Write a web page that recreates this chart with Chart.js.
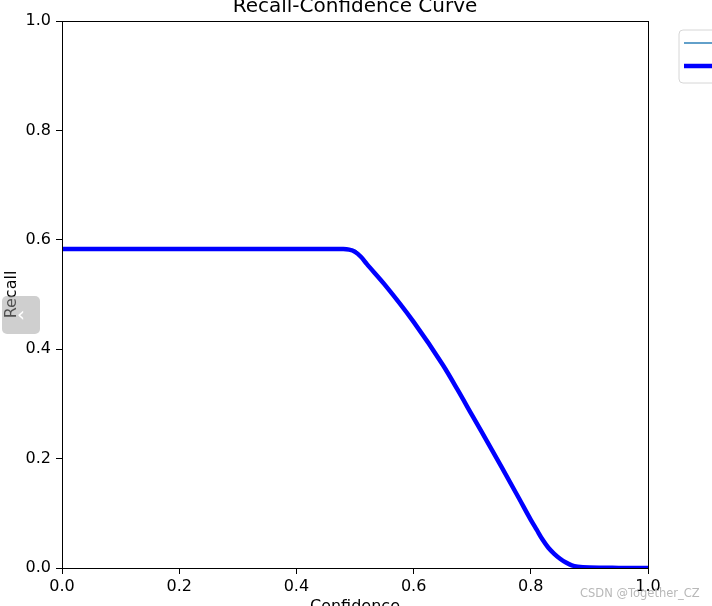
<!DOCTYPE html>
<html lang="en">
<head>
    <meta charset="UTF-8">
    <title>Recall-Confidence Curve</title>
    <script src="https://cdn.jsdelivr.net/npm/chart.js"></script>
    <style>
        html, body { margin: 0; padding: 0; background: #fff; overflow: hidden; width: 712px; height: 606px; }
        #wrap { position: absolute; left: 0; top: -20px; width: 960px; height: 640px; }
        #navBtn {
            position: absolute; left: 2px; top: 296px; width: 38px; height: 38px;
            border-radius: 5px; background: rgba(160, 160, 160, 0.5);
            color: #fff; font: 20px "DejaVu Sans", sans-serif; text-align: center; line-height: 36px;
        }
        #mark {
            position: absolute; left: 580px; top: 586px;
            font: 11.5px "DejaVu Sans", sans-serif; color: #b8b8b8; white-space: nowrap;
        }
    </style>
</head>
<body>
    <div id="wrap"><canvas id="rcChart" width="960" height="640"></canvas></div>
    <div id="navBtn">‹</div>
    <div id="mark">CSDN @Together_CZ</div>

    <script>
        // values
        const confidence  = [0, 0.2, 0.4, 0.46, 0.48, 0.49, 0.50, 0.51, 0.52, 0.55, 0.60, 0.65, 0.675, 0.70, 0.75, 0.78, 0.80, 0.81, 0.82, 0.83, 0.84, 0.85, 0.86, 0.87, 0.88, 0.90, 0.95, 1.0];
        const recallAll   = [0.583, 0.583, 0.583, 0.583, 0.583, 0.582, 0.578, 0.569, 0.556, 0.519, 0.450, 0.371, 0.326, 0.279, 0.185, 0.127, 0.088, 0.070, 0.052, 0.037, 0.026, 0.017, 0.010, 0.005, 0.0025, 0.0008, 0.0002, 0];
        const recallClass = [0.583, 0.583, 0.583, 0.583, 0.583, 0.583, 0.581, 0.571, 0.558, 0.519, 0.450, 0.371, 0.326, 0.279, 0.185, 0.127, 0.088, 0.070, 0.052, 0.037, 0.026, 0.017, 0.010, 0.005, 0.0025, 0.0008, 0.0002, 0];
        const seriesNames = ['person', 'all classes 0.58 at 0.000'];
        const tickValues  = [0, 0.2, 0.4, 0.6, 0.8, 1.0];
        const chartTitle  = 'Recall-Confidence Curve';

        Chart.defaults.font.family = "'DejaVu Sans', sans-serif";
        Chart.defaults.color = '#000';

        const toPoints = ys => confidence.map((x, i) => ({ x: x, y: ys[i] }));

        // title over the axes, frame round them, and a matplotlib-like legend box (cut by the window)
        const framePlugin = {
            id: 'frame',
            afterDraw(chart) {
                const { ctx, chartArea: a } = chart;
                ctx.save();
                ctx.fillStyle = '#000';
                ctx.font = "20px 'DejaVu Sans', sans-serif";
                ctx.textAlign = 'center';
                ctx.textBaseline = 'middle';
                ctx.fillText(chartTitle, (a.left + a.right) / 2, 27);

                ctx.strokeStyle = '#000';
                ctx.lineWidth = 1;
                ctx.strokeRect(Math.round(a.left) + 0.5, Math.round(a.top) + 0.5,
                    Math.round(a.right - a.left), Math.round(a.bottom - a.top));

                const lx = 679, ly = 50, lw = 220, lh = 53, r = 4;
                ctx.beginPath();
                ctx.moveTo(lx + r, ly);
                ctx.lineTo(lx + lw - r, ly);
                ctx.arcTo(lx + lw, ly, lx + lw, ly + r, r);
                ctx.lineTo(lx + lw, ly + lh - r);
                ctx.arcTo(lx + lw, ly + lh, lx + lw - r, ly + lh, r);
                ctx.lineTo(lx + r, ly + lh);
                ctx.arcTo(lx, ly + lh, lx, ly + lh - r, r);
                ctx.lineTo(lx, ly + r);
                ctx.arcTo(lx, ly, lx + r, ly, r);
                ctx.closePath();
                ctx.fillStyle = 'rgba(255,255,255,0.8)';
                ctx.fill();
                ctx.strokeStyle = '#d6d6d6';
                ctx.stroke();

                chart.data.datasets.forEach((ds, i) => {
                    const y = ly + 13 + i * 23;
                    ctx.beginPath();
                    ctx.strokeStyle = ds.borderColor;
                    ctx.lineWidth = ds.borderWidth;
                    ctx.moveTo(lx + 5, y);
                    ctx.lineTo(lx + 33, y);
                    ctx.stroke();
                });
                ctx.restore();
            }
        };

        const tickOpts = {
            color: '#000',
            font: { size: 16 },
            callback: v => Number(v).toFixed(1)
        };

        new Chart(document.getElementById('rcChart'), {
            type: 'line',
            data: {
                datasets: [
                    {
                        label: seriesNames[0],
                        data: toPoints(recallClass),
                        borderColor: '#1f77b4',
                        borderWidth: 1.4,
                        pointRadius: 0,
                        cubicInterpolationMode: 'monotone',
                        order: 2
                    },
                    {
                        label: seriesNames[1],
                        data: toPoints(recallAll),
                        borderColor: '#0000ff',
                        borderWidth: 4.5,
                        pointRadius: 0,
                        cubicInterpolationMode: 'monotone',
                        order: 1
                    }
                ]
            },
            options: {
                responsive: false,
                animation: false,
                layout: { padding: { left: 0, right: 312, top: 41, bottom: 0 } },
                plugins: {
                    legend: { display: false },
                    tooltip: { enabled: false },
                    title: { display: false }
                },
                scales: {
                    x: {
                        type: 'linear',
                        min: 0, max: 1,
                        afterBuildTicks: s => { s.ticks = tickValues.map(v => ({ value: v })); },
                        afterFit: s => { s.height = 52; },
                        grid: { drawOnChartArea: false, drawTicks: true, tickLength: 6, color: '#000' },
                        border: { display: false },
                        ticks: Object.assign({ padding: 3, maxRotation: 0, autoSkip: false }, tickOpts),
                        title: { display: true, text: 'Confidence', color: '#000', font: { size: 16 }, padding: { top: 0, bottom: 4 } }
                    },
                    y: {
                        type: 'linear',
                        min: 0, max: 1,
                        afterBuildTicks: s => { s.ticks = tickValues.map(v => ({ value: v })); },
                        afterFit: s => { s.width = 62; },
                        grid: { drawOnChartArea: false, drawTicks: true, tickLength: 6, color: '#000' },
                        border: { display: false },
                        ticks: Object.assign({ padding: 5, autoSkip: false }, tickOpts),
                        title: { display: true, text: 'Recall', color: '#000', font: { size: 16 }, padding: { top: 2, bottom: 0 } }
                    }
                }
            },
            plugins: [framePlugin]
        });
    </script>
</body>
</html>
